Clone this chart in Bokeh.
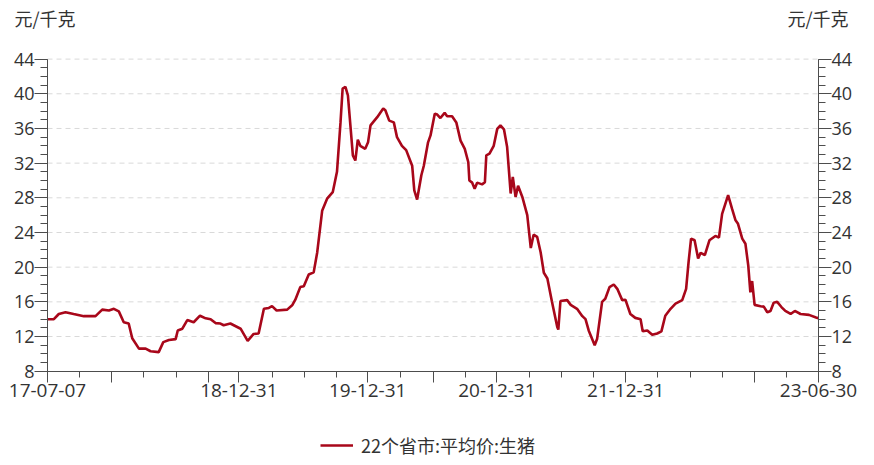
import pandas as pd
from bokeh.plotting import figure
from bokeh.models import (LinearAxis, FixedTicker, Label, Legend, LegendItem,
                          ColumnDataSource, Range1d)
from bokeh.embed import file_html
from bokeh.resources import INLINE

# ---------------- data ----------------
dates = [
    "2017-07-07", "2017-07-25", "2017-08-08", "2017-08-27", "2017-09-19", "2017-10-18",
    "2017-11-20", "2017-12-09", "2017-12-28", "2018-01-11", "2018-01-25", "2018-02-08",
    "2018-02-22", "2018-03-04", "2018-03-23", "2018-04-11", "2018-04-25", "2018-05-18",
    "2018-05-31", "2018-06-16", "2018-07-05", "2018-07-11", "2018-07-24", "2018-08-07",
    "2018-08-25", "2018-09-12", "2018-09-28", "2018-10-12", "2018-10-26", "2018-11-09",
    "2018-11-18", "2018-12-07", "2019-01-05", "2019-01-25", "2019-02-11", "2019-02-25",
    "2019-03-12", "2019-03-26", "2019-04-04", "2019-04-17", "2019-05-17", "2019-05-31",
    "2019-06-09", "2019-06-23", "2019-07-03", "2019-07-17", "2019-07-31", "2019-08-10",
    "2019-08-24", "2019-09-07", "2019-09-23", "2019-10-05", "2019-10-15", "2019-10-21",
    "2019-10-29", "2019-11-05", "2019-11-12", "2019-11-19", "2019-11-26", "2019-12-03",
    "2019-12-10", "2019-12-24", "2020-01-01", "2020-01-08", "2020-01-27", "2020-02-13",
    "2020-02-19", "2020-03-01", "2020-03-14", "2020-03-23", "2020-04-06", "2020-04-18",
    "2020-05-05", "2020-05-11", "2020-05-19", "2020-05-31", "2020-06-07", "2020-06-19",
    "2020-06-26", "2020-07-08", "2020-07-15", "2020-07-24", "2020-08-05", "2020-08-12",
    "2020-08-26", "2020-09-07", "2020-09-19", "2020-10-01", "2020-10-11", "2020-10-14",
    "2020-10-22", "2020-10-29", "2020-11-05", "2020-11-19", "2020-11-27", "2020-12-01",
    "2020-12-10", "2020-12-22", "2021-01-01", "2021-01-10", "2021-01-20", "2021-01-29",
    "2021-02-08", "2021-02-14", "2021-02-22", "2021-03-01", "2021-03-13", "2021-03-27",
    "2021-04-06", "2021-04-14", "2021-04-24", "2021-05-04", "2021-05-13", "2021-05-23",
    "2021-06-05", "2021-06-20", "2021-06-23", "2021-06-29", "2021-07-18", "2021-07-28",
    "2021-08-15", "2021-08-30", "2021-09-08", "2021-09-17", "2021-10-04", "2021-10-11",
    "2021-10-25", "2021-11-03", "2021-11-15", "2021-11-27", "2021-12-07", "2021-12-21",
    "2021-12-30", "2022-01-13", "2022-01-27", "2022-02-11", "2022-02-17", "2022-03-02",
    "2022-03-16", "2022-03-30", "2022-04-11", "2022-04-22", "2022-05-07", "2022-05-21",
    "2022-06-09", "2022-06-20", "2022-06-27", "2022-07-04", "2022-07-14", "2022-07-24",
    "2022-07-31", "2022-08-12", "2022-08-25", "2022-09-11", "2022-09-21", "2022-09-30",
    "2022-10-17", "2022-10-28", "2022-11-07", "2022-11-14", "2022-11-26", "2022-12-05",
    "2022-12-13", "2022-12-19", "2022-12-24", "2022-12-31", "2023-01-17", "2023-01-26",
    "2023-02-05", "2023-02-14", "2023-02-23", "2023-03-05", "2023-03-17", "2023-03-28",
    "2023-04-12", "2023-04-24", "2023-05-10", "2023-06-03", "2023-06-23", "2023-06-30",
]
prices = [
    14.0, 14.0, 14.6, 14.8, 14.6, 14.35,
    14.35, 15.1, 15.0, 15.2, 14.9, 13.65,
    13.5, 11.8, 10.6, 10.6, 10.3, 10.2,
    11.35, 11.6, 11.7, 12.7, 12.9, 13.9,
    13.65, 14.4, 14.1, 14.0, 13.55, 13.5,
    13.3, 13.5, 12.9, 11.5, 12.3, 12.35,
    15.2, 15.3, 15.5, 15.0, 15.1, 15.6,
    16.25, 17.7, 17.8, 19.15, 19.4, 21.7,
    26.5, 27.9, 28.65, 31.0, 36.7, 40.6,
    40.8, 39.8, 36.35, 32.9, 32.3, 34.7,
    34.0, 33.65, 34.4, 36.35, 37.3, 38.3,
    38.1, 36.9, 36.7, 35.0, 34.0, 33.5,
    31.7, 28.85, 27.8, 30.6, 31.7, 34.4,
    35.2, 37.7, 37.6, 37.2, 37.8, 37.4,
    37.4, 36.7, 34.6, 33.65, 32.1, 30.0,
    29.75, 29.05, 29.75, 29.55, 29.8, 32.9,
    33.1, 34.0, 35.95, 36.35, 35.9, 33.85,
    28.5, 30.4, 28.1, 29.4, 28.1, 26.0,
    22.2, 23.75, 23.5, 21.7, 19.35, 18.7,
    16.0, 13.1, 12.8, 16.1, 16.2, 15.65,
    15.2, 14.35, 14.0, 12.7, 11.0, 11.75,
    16.0, 16.35, 17.7, 18.0, 17.5, 16.2,
    16.25, 14.6, 14.15, 14.0, 12.6, 12.7,
    12.2, 12.35, 12.6, 14.4, 15.2, 15.8,
    16.2, 17.5, 20.6, 23.3, 23.1, 21.0,
    21.65, 21.4, 23.1, 23.6, 23.4, 26.15,
    28.3, 26.75, 25.4, 25.0, 23.3, 22.7,
    20.2, 17.1, 18.4, 15.65, 15.5, 15.45,
    14.8, 14.95, 15.9, 16.0, 15.4, 14.95,
    14.6, 14.95, 14.6, 14.5, 14.2, 14.1,
]
x_tick_dates = ["2017-07-07", "2018-12-31", "2019-12-31", "2020-12-31", "2021-12-31", "2023-06-30"]
x_tick_labels = ["17-07-07", "18-12-31", "19-12-31", "20-12-31", "21-12-31", "23-06-30"]
y_ticks = [8, 12, 16, 20, 24, 28, 32, 36, 40, 44]
unit_label = "元/千克"
series_name = "22个省市:平均价:生猪"

# ---------------- derived ----------------
start = pd.Timestamp(dates[0])
days = [(pd.Timestamp(d) - start).days for d in dates]
total_days = (pd.Timestamp(x_tick_dates[-1]) - start).days
n_int = 24
step = total_days // n_int
even_ticks = [i * step for i in range(n_int + 1)]
label_days = [(pd.Timestamp(d) - start).days for d in x_tick_dates]
long_idx = [2, 5, 12, 22]
label_idx = (0, 6, 10, 14, 18, 24)
major_x = sorted(set(label_days + [even_ticks[i] for i in long_idx]))
minor_x = [t for i, t in enumerate(even_ticks) if i not in long_idx and i not in label_idx]
overrides = {d: "" for d in major_x}
for d, l in zip(label_days, x_tick_labels):
    overrides[d] = l
y_lo, y_hi = min(y_ticks), max(y_ticks)

# ---------------- layout (pixels) ----------------
W, H = 858, 460
PL, PR, PT, PB = 47, 818, 58.6, 370.7      # plot-area edges on the canvas
ppd = (PR - PL) / total_days               # px per day
ppu = (PB - PT) / (y_hi - y_lo)            # px per unit
x_range = Range1d(-PL / ppd, (W - PL) / ppd)
y_range = Range1d(y_lo - (H - PB) / ppu, y_hi + PT / ppu)

LINE = "#A8071A"
TXT = "#333333"
AX = "#4d4d4d"
FONT_NUM = "Open Sans"
FONT_CJK = "Noto Sans CJK SC"

src = ColumnDataSource(dict(x=days, y=prices))

p = figure(width=W, height=H, output_backend="svg", toolbar_location=None,
           x_range=x_range, y_range=y_range,
           min_border=0, min_border_left=0, min_border_right=0,
           min_border_top=0, min_border_bottom=0,
           y_axis_location=None, x_axis_location=None)
p.outline_line_color = None
p.background_fill_color = "white"
p.border_fill_color = "white"
p.xgrid.visible = False
p.ygrid.visible = False

# dashed horizontal grid lines at the y ticks (not at the bottom axis)
gy = y_ticks[1:]
p.segment(x0=[0] * len(gy), x1=[total_days] * len(gy), y0=gy, y1=gy,
          line_color="#d9d9d9", line_dash="5 4", line_width=1)

r = p.line("x", "y", source=src, line_color=LINE, line_width=2.6)

yt = FixedTicker(ticks=y_ticks, minor_ticks=list(range(y_lo, y_hi + 1)))
for side, loc in (("left", 0), ("right", total_days)):
    ax = LinearAxis(ticker=yt, fixed_location=loc, bounds=(y_lo, y_hi))
    ax.axis_line_color = AX
    ax.major_tick_line_color = AX
    ax.minor_tick_line_color = AX
    ax.major_tick_in = 0
    ax.major_tick_out = 13
    ax.minor_tick_in = 0
    ax.minor_tick_out = 7
    ax.major_label_standoff = 0
    ax.major_label_text_font = FONT_NUM
    ax.major_label_text_font_size = "18px"
    ax.major_label_text_color = TXT
    p.add_layout(ax, side)

xax = LinearAxis(ticker=FixedTicker(ticks=major_x, minor_ticks=minor_x),
                 fixed_location=y_lo, bounds=(0, total_days))
xax.major_label_overrides = overrides
xax.axis_line_color = AX
xax.major_tick_line_color = AX
xax.minor_tick_line_color = AX
xax.major_tick_in = 0
xax.major_tick_out = 11
xax.minor_tick_in = 0
xax.minor_tick_out = 6
xax.major_label_standoff = 2
xax.major_label_text_font = FONT_NUM
xax.major_label_text_font_size = "19px"
xax.major_label_text_color = TXT
p.add_layout(xax, "below")

for xs, align in ((14, "left"), (848, "right")):
    p.add_layout(Label(x=xs, y=H - 17, x_units="screen", y_units="screen", text=unit_label,
                       text_align=align, text_baseline="middle",
                       text_font=FONT_CJK, text_font_size="18px", text_color=TXT))

leg = Legend(items=[LegendItem(label=series_name, renderers=[r])],
             location=(320, H - 458), orientation="horizontal",
             glyph_width=33, glyph_height=20, label_height=20, label_standoff=8,
             padding=0, margin=0, spacing=0,
             border_line_alpha=0, background_fill_alpha=0,
             label_text_font=FONT_CJK, label_text_font_size="18px", label_text_color=TXT)
p.add_layout(leg, "center")

open("out.html", "w").write(file_html(p, INLINE))
